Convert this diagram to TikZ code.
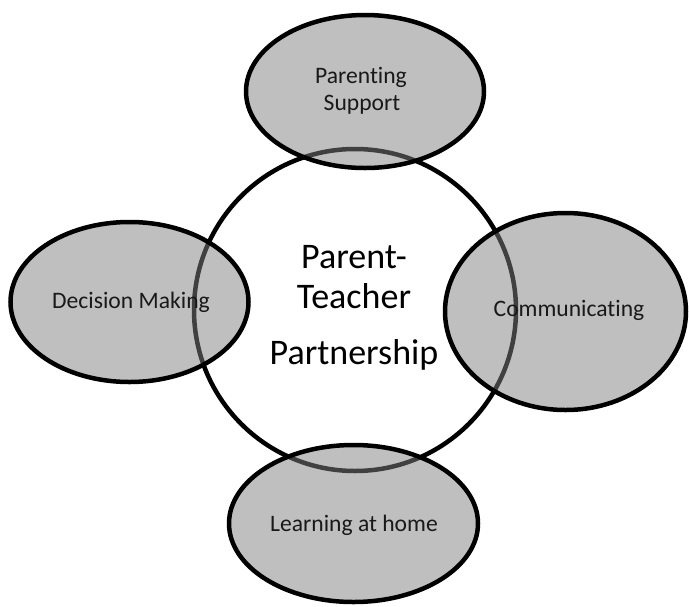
\documentclass[tikz,border=0pt]{standalone}
\usepackage{fontspec}
\setmainfont{Carlito}[Ligatures=NoCommon]
\usetikzlibrary{shapes.geometric}
\begin{document}
\begin{tikzpicture}[x=1pt,y=-1pt,
  ring/.style={circle,draw=black,line width=4.5pt,fill=white,inner sep=0pt,minimum size=322pt},
  blob/.style={ellipse,draw=black,line width=4.5pt,fill=black!50,fill opacity=0.5,draw opacity=1,inner sep=0pt},
  lbl/.style={anchor=base,inner sep=0pt,text=black!90,font=\fontsize{23.6}{28}\selectfont},
  big/.style={anchor=base,inner sep=0pt,text=black,font=\fontsize{36}{40}\selectfont}]
\useasboundingbox (0,0) rectangle (689,606);
\fill[white] (0,0) rectangle (689,606);
\node[ring] (ptp) at (355,310) {};
\node[blob,minimum width=238pt,minimum height=153pt] (top) at (365,91.5) {};
\node[blob,minimum width=238pt,minimum height=160pt] (left) at (129.5,302) {};
\node[blob,minimum width=241pt,minimum height=197pt] (right) at (565.5,311.5) {};
\node[blob,minimum width=249pt,minimum height=157pt] (bottom) at (353.5,523.5) {};
\node[lbl] (t1) at (361,83) {Parenting};
\node[lbl] (t2) at (362,110.5) {Support};
\node[lbl] (t3) at (131,308) {Decision Making};
\node[lbl] (t4) at (569,316.5) {Communicating};
\node[lbl] (t5) at (354,531) {Learning at home};
\node[big] (b1) at (354,268) {Parent-};
\node[big] (b2) at (354,308) {Teacher};
\node[big] (b3) at (354,364) {Partnership};
\end{tikzpicture}
\end{document}
